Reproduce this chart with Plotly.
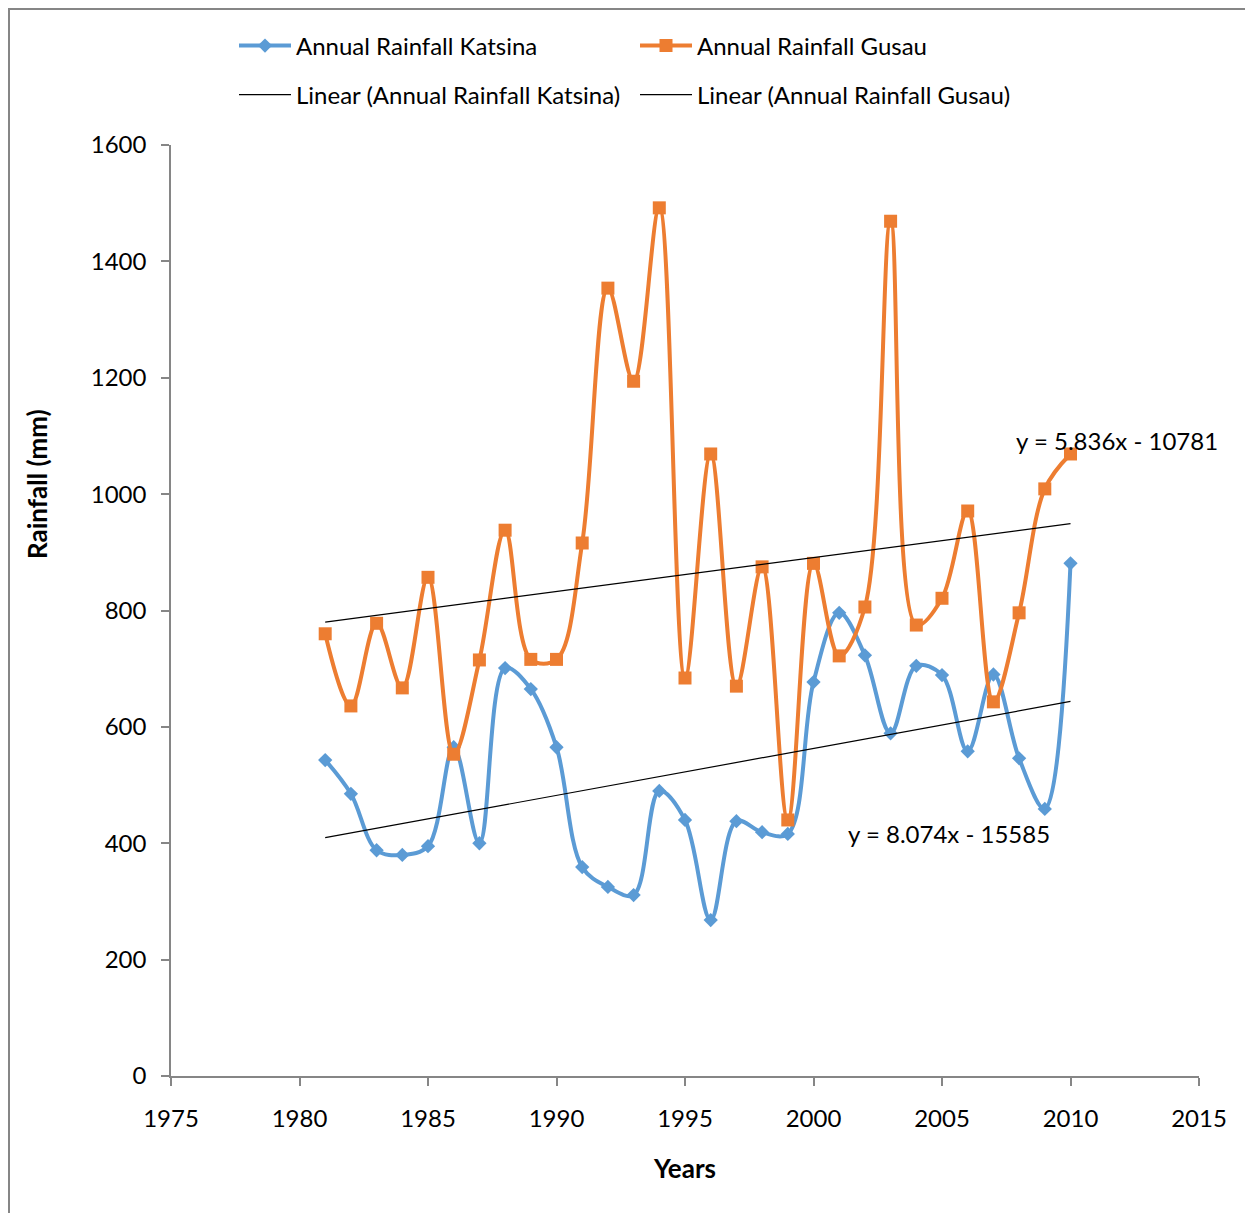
import plotly.graph_objects as go

years = list(range(1981, 2011))
katsina = [543, 485, 388, 380, 395, 565, 400, 701, 665, 565,
           359, 325, 311, 490, 440, 268, 438, 419, 416, 677,
           796, 723, 589, 705, 689, 558, 690, 546, 459, 881]
gusau = [760, 636, 778, 667, 857, 553, 715, 938, 716, 716,
         916, 1354, 1194, 1492, 684, 1069, 670, 875, 440, 881,
         722, 806, 1469, 775, 821, 971, 643, 796, 1009, 1069]

# trendline coefficients shown on the chart
k_slope, k_int = 8.074, -15585
g_slope, g_int = 5.836, -10781
trend_years = [years[0], years[-1]]

x_ticks = [1975, 1980, 1985, 1990, 1995, 2000, 2005, 2010, 2015]
y_ticks = [0, 200, 400, 600, 800, 1000, 1200, 1400, 1600]

BLUE = "#5B9BD5"
ORANGE = "#ED7D31"
FONT = "Lato"
AX = "#868686"

fig = go.Figure()
fig.add_trace(go.Scatter(
    x=years, y=katsina, name="Annual Rainfall Katsina", mode="lines+markers",
    line=dict(color=BLUE, width=4, shape="spline", smoothing=1),
    marker=dict(symbol="diamond", size=11, color=BLUE), legend="legend"))
fig.add_trace(go.Scatter(
    x=years, y=gusau, name="Annual Rainfall Gusau", mode="lines+markers",
    line=dict(color=ORANGE, width=4, shape="spline", smoothing=1),
    marker=dict(symbol="square", size=13, color=ORANGE), legend="legend"))
fig.add_trace(go.Scatter(
    x=trend_years, y=[k_slope * t + k_int for t in trend_years],
    name="Linear (Annual Rainfall Katsina)", mode="lines",
    line=dict(color="black", width=1.2), legend="legend2"))
fig.add_trace(go.Scatter(
    x=trend_years, y=[g_slope * t + g_int for t in trend_years],
    name="Linear (Annual Rainfall Gusau)", mode="lines",
    line=dict(color="black", width=1.2), legend="legend2"))

# page body adds an 8px offset; work in screen pixels and subtract it
OFF = 8
W, H = 1253 - OFF, 1213 - OFF
L, R, T, B = 171 - OFF, 1199 - OFF, 145 - OFF, 1076 - OFF
pw, ph = R - L, B - T

def px2paper_x(px):
    return (px - OFF - L) / pw

def px2paper_y(py):
    return (B - (py - OFF)) / ph

legend_common = dict(orientation="h", xanchor="left", yanchor="middle",
                     entrywidth=334, itemwidth=52,
                     font=dict(family=FONT, size=24), bgcolor="rgba(0,0,0,0)")

fig.update_layout(
    width=W, height=H,
    margin=dict(l=L, r=W - R, t=T, b=H - B, autoexpand=False),
    paper_bgcolor="white", plot_bgcolor="white",
    font=dict(family=FONT, size=24, color="black"),
    showlegend=True,
    legend=dict(x=px2paper_x(234), y=px2paper_y(46), **legend_common),
    legend2=dict(x=px2paper_x(234), y=px2paper_y(95), **legend_common),
    xaxis=dict(range=[1975, 2015], tickvals=x_ticks, ticktext=[str(v) for v in x_ticks],
               showgrid=False, zeroline=False, showline=True, linecolor=AX, linewidth=1.5,
               ticks="outside", ticklen=8, tickcolor=AX, tickwidth=1.5,
               tickfont=dict(family=FONT, size=24), ticklabelstandoff=12,
               title=dict(text="<b>Years</b>", font=dict(family=FONT, size=26), standoff=29)),
    yaxis=dict(range=[0, 1600], tickvals=y_ticks, ticktext=[str(v) for v in y_ticks],
               showgrid=False, zeroline=False, showline=True, linecolor=AX, linewidth=1.5,
               ticks="outside", ticklen=8, tickcolor=AX, tickwidth=1.5,
               tickfont=dict(family=FONT, size=24), ticklabelstandoff=10),
    annotations=[
        dict(text="<b>Rainfall (mm)</b>", xref="paper", yref="paper",
             x=px2paper_x(37), y=px2paper_y(484), textangle=-90, showarrow=False,
             xanchor="center", yanchor="middle", font=dict(family=FONT, size=26)),
        dict(text=f"y = {g_slope}x - {abs(g_int)}", x=2011.8, y=1093, showarrow=False,
             xanchor="center", yanchor="middle", font=dict(family=FONT, size=24)),
        dict(text=f"y = {k_slope}x - {abs(k_int)}", x=2005.27, y=416, showarrow=False,
             xanchor="center", yanchor="middle", font=dict(family=FONT, size=24)),
    ],
    shapes=[dict(type="rect", xref="paper", yref="paper",
                 x0=px2paper_x(9), x1=px2paper_x(1262), y0=px2paper_y(1222), y1=px2paper_y(9),
                 line=dict(color=AX, width=2), layer="below")],
)

fig.write_html("out.html")
